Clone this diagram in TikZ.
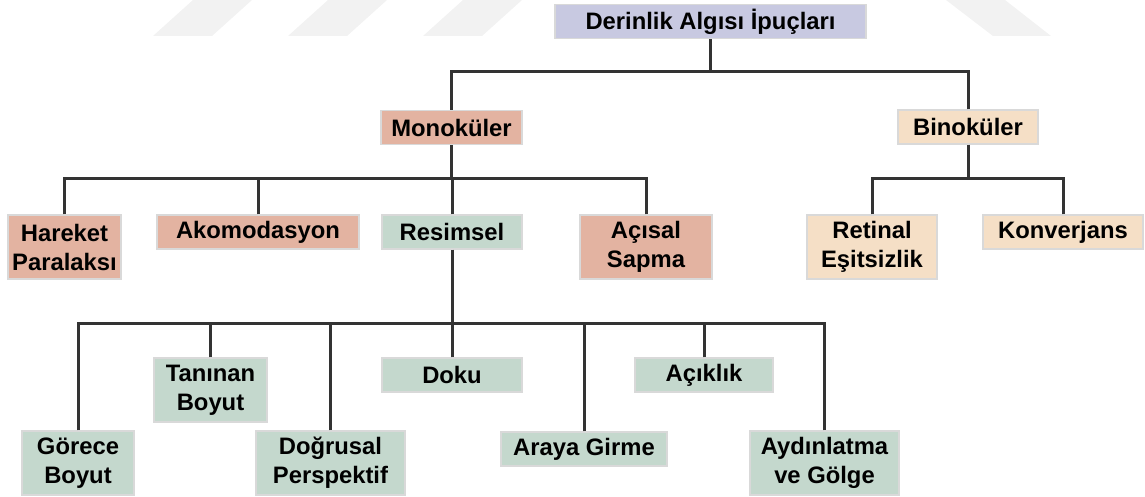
\documentclass[tikz,border=0pt]{standalone}
\usepackage{fontspec}
\setmainfont{Liberation Sans}
\usepackage{xcolor}
\usepackage{tikz}
\usetikzlibrary{positioning}

\definecolor{rootfill}{RGB}{200,201,225}
\definecolor{monofill}{RGB}{227,179,161}
\definecolor{binofill}{RGB}{245,223,198}
\definecolor{picfill}{RGB}{196,216,205}

\begin{document}
\begin{tikzpicture}[
    x=0.5pt, y=-0.5pt, % pixel grid, y downwards
    every node/.style={draw=black!15, line width=0.6pt, inner sep=0pt, align=center,
        minimum height=17pt, font=\fontsize{11.9}{14.5}\selectfont\bfseries},
    tall/.style={minimum height=32pt},
    rootbox/.style={fill=rootfill},
    monobox/.style={fill=monofill},
    binobox/.style={fill=binofill},
    picbox/.style={fill=picfill},
    link/.style={line width=1.5pt, draw=black!80},
    wmark/.style={fill=black!5, draw=none}
]
\useasboundingbox (0,0) rectangle (1145,497);

% faint watermark in the background
\fill[wmark] (153,36) -- (212,36) -- (252,0) -- (193,0) -- cycle;
\fill[wmark] (288,36) -- (347,36) -- (387,0) -- (328,0) -- cycle;
\fill[wmark] (423,36) -- (482,36) -- (522,0) -- (463,0) -- cycle;
\fill[wmark] (993,36) -- (1051,36) -- (1005,0) -- (946,0) -- cycle;

% top
\node[rootbox, minimum width=155.5pt] (root) at (710.5,21.5) {Derinlik Algısı İpuçları};

% second level
\node[monobox, minimum width=70.5pt] (mono) at (451.5,127.5) {Monoküler};
\node[binobox, minimum width=70pt] (bino) at (968,127) {Binoküler};

% monocular cues
\node[monobox, tall, minimum width=56.5pt] (hareket) at (64.5,247) {Hareket\\Paralaksı};
\node[monobox, minimum width=101pt] (akomod) at (258,232) {Akomodasyon};
\node[picbox, minimum width=70pt] (resimsel) at (452,232) {Resimsel};
\node[monobox, tall, minimum width=66pt] (acisal) at (646,247) {Açısal\\Sapma};

% binocular cues
\node[binobox, tall, minimum width=65pt] (retinal) at (872,247) {Retinal\\Eşitsizlik};
\node[binobox, minimum width=80pt] (konver) at (1063,232) {Konverjans};

% pictorial cues
\node[picbox, tall, minimum width=56pt] (gorece) at (78,463) {Görece\\Boyut};
\node[picbox, tall, minimum width=56.5pt] (taninan) at (210.5,390) {Tanınan\\Boyut};
\node[picbox, tall, minimum width=74.5pt] (dogrusal) at (330.5,463) {Doğrusal\\Perspektif};
\node[picbox, minimum width=70pt] (doku) at (452,375) {Doku};
\node[picbox, minimum width=83pt] (araya) at (584,449) {Araya Girme};
\node[picbox, minimum width=69pt] (aciklik) at (704,375) {Açıklık};
\node[picbox, tall, minimum width=74.5pt] (aydin) at (824.5,463) {Aydınlatma\\ve Gölge};

% bus lines
\coordinate (topbus) at (0,72);
\coordinate (monobus) at (0,179);
\coordinate (binobus) at (0,179);
\coordinate (picbus) at (0,323);

% connectors
\draw[link] (root.south) -- (topbus -| root);
\foreach \c in {mono,bino}
    \draw[link] (\c.north) |- (topbus -| root);

\draw[link] (mono.south) -- (monobus -| mono);
\foreach \c in {hareket,akomod,resimsel,acisal}
    \draw[link] (\c.north) |- (monobus -| mono);

\draw[link] (bino.south) -- (binobus -| bino);
\foreach \c in {retinal,konver}
    \draw[link] (\c.north) |- (binobus -| bino);

\draw[link] (resimsel.south) -- (picbus -| resimsel);
\foreach \c in {gorece,taninan,dogrusal,doku,araya,aciklik,aydin}
    \draw[link] (\c.north) |- (picbus -| resimsel);

\end{tikzpicture}
\end{document}
